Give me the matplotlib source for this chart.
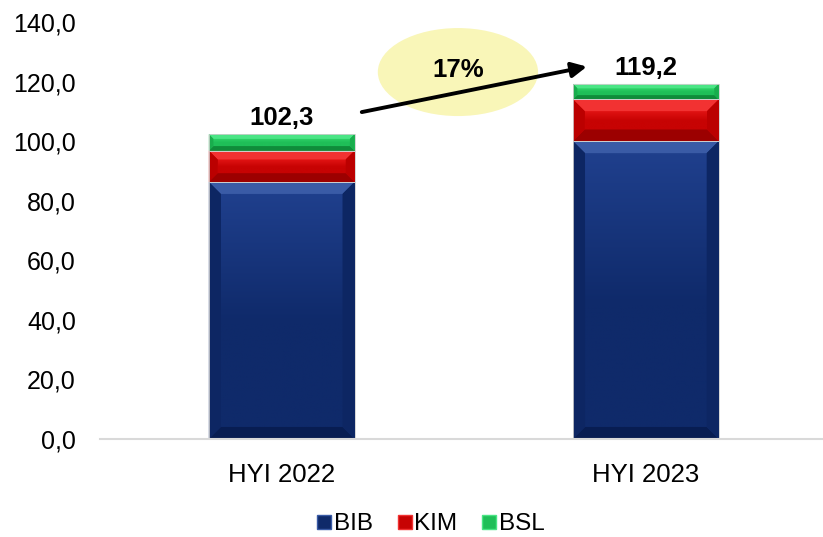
import matplotlib
matplotlib.use("Agg")
import matplotlib.pyplot as plt
from matplotlib.patches import Polygon, Ellipse
from matplotlib.lines import Line2D
import numpy as np

categories = ["HYI 2022", "HYI 2023"]
series_names = ["BIB", "KIM", "BSL"]
bib = [86.3, 100.0]
kim = [10.5, 14.0]
bsl = [5.5, 5.2]
totals = [102.3, 119.2]
growth_label = "17%"
yticks = [0, 20, 40, 60, 80, 100, 120, 140]

# colours: (base, top bevel, side bevel, bottom bevel, inner top gradient)
palette = {
    "BIB": ("#0f2a6a", "#3a5ba6", "#0d2663", "#081d52", "#1f3f8c"),
    "KIM": ("#c70303", "#f23232", "#bb0000", "#9c0000", "#e31414"),
    "BSL": ("#1fbf58", "#4ae585", "#19ad4d", "#0f8c3a", "#2fd368"),
}

plt.rcParams['font.family'] = ['Liberation Sans', 'DejaVu Sans']

fig = plt.figure(figsize=(8.23, 5.37), dpi=100)
ax = fig.add_axes([0.121, 0.1825, 0.885, 0.7765])

x = np.arange(len(categories))
width = 0.40
ax.set_xlim(-0.5, len(categories) - 0.5)
ax.set_ylim(0, 140)

bottoms = np.zeros(len(categories))
all_patches = []
for name, vals in zip(series_names, [bib, kim, bsl]):
    bars = ax.bar(x, vals, width, bottom=bottoms, color=palette[name][0],
                  edgecolor='none', label=name, zorder=2)
    all_patches.append((name, bars))
    bottoms = bottoms + np.array(vals)

fig.canvas.draw()

inv = ax.transData.inverted()
def px2data(dx, dy):
    p0 = inv.transform((0, 0))
    p1 = inv.transform((dx, dy))
    return p1[0] - p0[0], p1[1] - p0[1]

from matplotlib.colors import to_rgb
for name, bars in all_patches:
    base, topc, sidec, botc, gradc = palette[name]
    for p in bars:
        x0, y0 = p.get_x(), p.get_y()
        w, h = p.get_width(), p.get_height()
        x1, y1 = x0 + w, y0 + h
        hpx = ax.transData.transform((0, y1))[1] - ax.transData.transform((0, y0))[1]
        b = min(12.0, hpx * 0.28)
        bx, by = px2data(b, b)
        ix0, ix1 = x0 + bx, x1 - bx
        iy0, iy1 = y0 + by, y1 - by
        # inner vertical gradient
        c1 = np.array(to_rgb(gradc)); c0 = np.array(to_rgb(base))
        n = 64
        t = np.linspace(0, 1, n)[:, None]
        t = np.clip((t - 0.45) / 0.55, 0, 1)
        img = (c0 * (1 - t) + c1 * t)[:, None, :]
        ax.imshow(img, extent=(ix0, ix1, iy0, iy1), origin='lower', aspect='auto',
                  interpolation='bilinear', zorder=2.5)
        polys = [
            ([(x0, y1), (x1, y1), (ix1, iy1), (ix0, iy1)], topc),
            ([(x0, y0), (x1, y0), (ix1, iy0), (ix0, iy0)], botc),
            ([(x0, y0), (ix0, iy0), (ix0, iy1), (x0, y1)], sidec),
            ([(x1, y0), (ix1, iy0), (ix1, iy1), (x1, y1)], sidec),
        ]
        for pts, c in polys:
            ax.add_patch(Polygon(pts, closed=True, facecolor=c, edgecolor='none', zorder=3))
        ax.add_patch(Polygon([(x0, y0), (x1, y0), (x1, y1), (x0, y1)], closed=True,
                             facecolor='none', edgecolor='#d0d0d0', linewidth=0.6, zorder=4))

ax.set_xlim(-0.5, len(categories) - 0.5)
ax.set_ylim(0, 140)

for xi, t in zip(x, totals):
    ax.annotate(f"{t:.1f}".replace('.', ','), (xi, t), xytext=(0, 3),
                textcoords='offset points', ha='center', va='bottom',
                fontsize=18.5, fontweight='bold', color='black', zorder=6)

ax.add_patch(Ellipse((0.492, 0.880), 0.22, 0.211, transform=ax.transAxes,
                     facecolor='#f9f6b8', edgecolor='none', zorder=1, clip_on=False))
ax.text(0.492, 0.885, growth_label, transform=ax.transAxes, ha='center', va='center',
        fontsize=18.5, fontweight='bold', zorder=6)
ax.annotate("", xy=(0.669, 0.893), xycoords='axes fraction',
            xytext=(0.360, 0.784), textcoords='axes fraction',
            arrowprops=dict(arrowstyle='-|>,head_length=0.9,head_width=0.45',
                            color='black', lw=2.8, shrinkA=0, shrinkB=0),
            zorder=7)

for s in ['top', 'right', 'left']:
    ax.spines[s].set_visible(False)
ax.spines['bottom'].set_color('#d9d9d9')
ax.spines['bottom'].set_linewidth(1.5)
ax.spines['bottom'].set_zorder(5)
ax.set_yticks(yticks)
ax.set_yticklabels([f"{v:.1f}".replace('.', ',') for v in yticks])
ax.set_xticks(x)
ax.set_xticklabels(categories)
ax.tick_params(axis='y', length=0, pad=17, labelsize=18)
ax.tick_params(axis='x', length=0, pad=17, labelsize=18.5)

handles = [Line2D([0], [0], marker='s', linestyle='none', markersize=10.5,
                  markerfacecolor=palette[n][0], markeredgecolor=palette[n][1],
                  markeredgewidth=1.0) for n in series_names]
fig.legend(handles, series_names, loc='center', bbox_to_anchor=(0.522, 0.024),
           ncol=3, frameon=False, fontsize=17.5, handletextpad=0.0,
           columnspacing=0.9, handlelength=0.8)

fig.savefig("out.png", dpi=100)
